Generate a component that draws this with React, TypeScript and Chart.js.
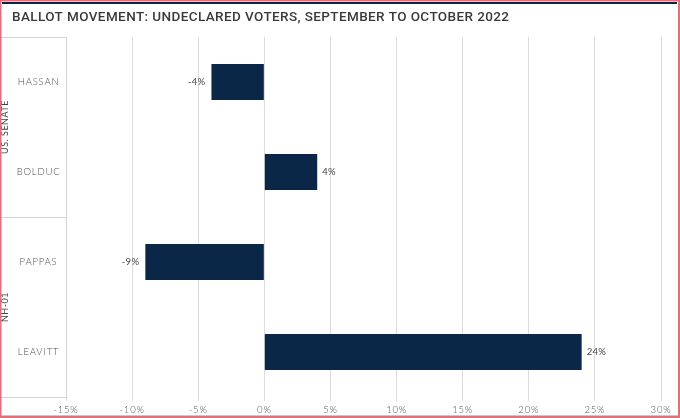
import React, { useEffect, useRef } from "react";
import { Chart, registerables } from "chart.js";

Chart.register(...registerables);

const TITLE = "BALLOT MOVEMENT: UNDECLARED VOTERS, SEPTEMBER TO OCTOBER 2022";
const candidates = ["HASSAN", "BOLDUC", "PAPPAS", "LEAVITT"];
const movement = [-4, 4, -9, 24];
const groups = ["US. SENATE", "NH-01"];
const groupSizes = [2, 2];
const xMin = -15;
const xMax = 30;
const xStep = 5;

const BAR = "#0b2748";

const framePlugin = {
  id: "frame",
  beforeDraw(chart: any) {
    const { ctx, width, height } = chart;
    ctx.save();
    ctx.fillStyle = "#ffffff";
    ctx.fillRect(0, 0, width, height);
    ctx.restore();
    (ctx as any).letterSpacing = "0.8px";
  },
  afterDraw(chart: any) {
    const { ctx, width, height, chartArea, scales } = chart;
    const y = scales.y;
    ctx.save();
    // title
    (ctx as any).letterSpacing = "0.4px";
    ctx.fillStyle = "#3a3a3a";
    ctx.font = "500 13.5px Roboto";
    ctx.textAlign = "left";
    ctx.textBaseline = "middle";
    ctx.fillText(TITLE, 12, 18);
    // group box
    ctx.strokeStyle = "#d4d4d4";
    ctx.lineWidth = 1;
    let idx = 0;
    const boundaries: number[] = [y.getPixelForValue(-0.5)];
    groups.forEach((g, gi) => {
      const start = idx;
      idx += groupSizes[gi];
      const top = y.getPixelForValue(start - 0.5);
      const bot = y.getPixelForValue(idx - 0.5);
      boundaries.push(bot);
      ctx.save();
      ctx.translate(5, (top + bot) / 2);
      ctx.rotate(-Math.PI / 2);
      ctx.fillStyle = "#444444";
      ctx.font = "400 9px Lato";
      (ctx as any).letterSpacing = "0.5px";
      ctx.textAlign = "center";
      ctx.textBaseline = "middle";
      ctx.fillText(g, 0, 0);
      ctx.restore();
    });
    boundaries.forEach((b) => {
      const yy = Math.round(b) + 0.5;
      ctx.beginPath();
      ctx.moveTo(0, yy);
      ctx.lineTo(chartArea.left, yy);
      ctx.stroke();
    });
    // outer frame
    ctx.fillStyle = "#e0707a";
    ctx.fillRect(0, 0, width, 1.5);
    ctx.fillRect(0, 0, 1.5, height);
    ctx.fillRect(width - 2, 0, 2, height);
    ctx.fillRect(0, height - 2.5, width, 2.5);
    ctx.fillStyle = "#0b2748";
    ctx.fillRect(2, 2, width - 5, 2);
    ctx.restore();
    (ctx as any).letterSpacing = "0px";
  },
};

const labelPlugin = {
  id: "barLabels",
  afterDatasetsDraw(chart: any) {
    const { ctx } = chart;
    const meta = chart.getDatasetMeta(0);
    ctx.save();
    (ctx as any).letterSpacing = "0.3px";
    ctx.font = "9.5px Lato";
    ctx.fillStyle = "#444444";
    ctx.textBaseline = "middle";
    meta.data.forEach((el: any, i: number) => {
      const v = movement[i];
      const txt = v + "%";
      if (v < 0) {
        ctx.textAlign = "right";
        ctx.fillText(txt, el.x - 6, el.y);
      } else {
        ctx.textAlign = "left";
        ctx.fillText(txt, el.x + 5, el.y);
      }
    });
    ctx.restore();
  },
};

export default function App() {
  const ref = useRef<HTMLCanvasElement>(null);
  useEffect(() => {
    document.body.style.margin = "0";
    const chart = new Chart(ref.current as HTMLCanvasElement, {
      type: "bar",
      data: {
        labels: candidates,
        datasets: [
          {
            data: movement,
            backgroundColor: BAR,
            barPercentage: 0.4,
            categoryPercentage: 1,
          },
        ],
      },
      options: {
        indexAxis: "y",
        animation: false,
        responsive: false,
        layout: { padding: { top: 37, right: 19, left: 0, bottom: 0 } },
        plugins: {
          legend: { display: false },
          tooltip: { enabled: false },
          title: { display: false },
        },
        scales: {
          x: {
            min: xMin,
            max: xMax,
            afterFit(scale: any) {
              scale.height = 21;
            },
            ticks: {
              stepSize: xStep,
              padding: 3,
              color: "#555555",
              font: { family: "Lato", size: 9.5, weight: "300" },
              callback: (v: any) => v + "%",
            },
            grid: {
              color: "#dcdcdc",
              lineWidth: 1,
              drawTicks: true,
              tickLength: 4,
            },
            border: { display: false },
          },
          y: {
            afterFit(scale: any) {
              scale.width = 66;
            },
            ticks: {
              crossAlign: "center",
              padding: 8,
              color: "#4a4a4a",
              font: { family: "Lato", size: 9.5, weight: "300" },
            },
            grid: { display: false, drawTicks: false },
            border: { display: true, color: "#d4d4d4", width: 1 },
          },
        },
      },
      plugins: [framePlugin, labelPlugin],
    } as any);
    return () => chart.destroy();
  }, []);
  return (
    <div style={{ width: 680, height: 418 }}>
      <canvas ref={ref} width={680} height={418} style={{ display: "block" }} />
    </div>
  );
}
